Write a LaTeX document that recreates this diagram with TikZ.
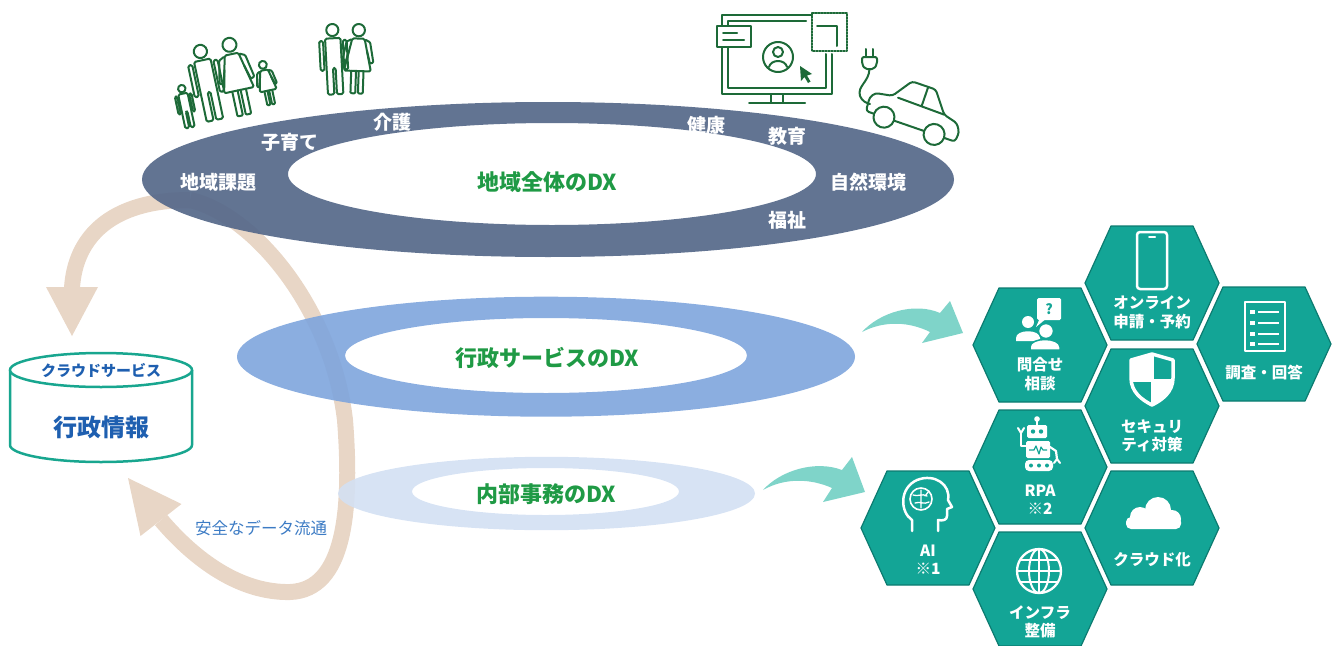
\documentclass[tikz,border=0pt]{standalone}
\usepackage{fontspec}
\setmainfont{Noto Sans CJK JP}
\usetikzlibrary{calc}

\definecolor{ringdark}{HTML}{56698A}
\definecolor{ringmid}{HTML}{7EA5DD}
\definecolor{ringlight}{HTML}{D3E0F3}
\definecolor{sand}{HTML}{E8D6C6}
\definecolor{dxgreen}{HTML}{1F9A45}
\definecolor{hexfill}{HTML}{13A596}
\definecolor{hexedge}{HTML}{0C7B70}
\definecolor{mint}{HTML}{7FD4C9}
\definecolor{linegreen}{HTML}{1D6A38}
\definecolor{cylteal}{HTML}{18A68F}
\definecolor{infoblue}{HTML}{1E5FB0}
\definecolor{flowblue}{HTML}{3C7BC4}

\tikzset{
  ringlabel/.style={text=white, font=\bfseries\fontsize{19}{21}\selectfont, inner sep=0pt},
  dxtitle/.style={text=dxgreen, font=\bfseries\fontsize{22}{24}\selectfont, inner sep=0pt},
  hextext/.style={text=white, font=\bfseries\fontsize{15.5}{18.5}\selectfont, align=center, inner sep=0pt},
  iconline/.style={draw=linegreen, line width=2pt, line join=round, line cap=round},
  glyph/.style={draw=white, line width=2.5pt, line join=round},
  sandband/.style={draw=sand, line width=16pt},
}

% one honeycomb cell centred at (#2,#3), centre named #1
\newcommand\hexcell[3]{%
  \begin{scope}[shift={(#2,#3)}]
    \fill[hexfill, draw=hexedge, line width=1.2pt, line join=round]
      (-67,0) -- (-41,-57) -- (41,-57) -- (67,0) -- (41,57) -- (-41,57) -- cycle;
  \end{scope}
  \coordinate (#1) at (#2,#3);}

% line-art figures: x, y of head top, scale, tilt
\newcommand\manfig[4]{%
  \begin{scope}[shift={(#1,#2)},rotate=#4,scale=#3]
    \draw[iconline] (0,5.5) circle[radius=5.5];
    \draw[iconline, rounded corners=1.5] (-7,13) -- (7,13) -- (7,64) -- (1.2,64) -- (1.2,40) -- (-1.2,40) -- (-1.2,64) -- (-7,64) -- cycle;
    \draw[iconline, rounded corners=1.5] (-12.5,15) rectangle (-9,42);
    \draw[iconline, rounded corners=1.5] (9,15) rectangle (12.5,42);
  \end{scope}}
\newcommand\womanfig[4]{%
  \begin{scope}[shift={(#1,#2)},rotate=#4,scale=#3]
    \draw[iconline] (0,5.5) circle[radius=5.5];
    \draw[iconline, rounded corners=1.5] (-5.5,13) -- (5.5,13) -- (12,42) -- (-12,42) -- cycle;
    \draw[iconline, rounded corners=1] (-5.5,42) -- (-5.5,62) -- (-1.2,62) -- (-1.2,42);
    \draw[iconline, rounded corners=1] (1.2,42) -- (1.2,62) -- (5.5,62) -- (5.5,42);
    \draw[iconline, rounded corners=1] (-6.5,14) -- (-10.5,16) -- (-14,34) -- (-11,35) -- (-8,24);
    \draw[iconline, rounded corners=1] (6.5,14) -- (10.5,16) -- (14,34) -- (11,35) -- (8,24);
  \end{scope}}

\begin{document}
\begin{tikzpicture}[x=1pt,y=-1pt]
\useasboundingbox (0,0) rectangle (1338,645);

% ---------- data flow loop (under the rings) ----------
\coordinate (loopstart) at (190,200);
\coordinate (headA) at (72,288);
\coordinate (headB) at (161,520);
\draw[sandband] (loopstart) .. controls (110,200) and (75,238) .. (headA);
\fill[sand] (46,287) -- (98,287) -- (72,336) -- cycle;
\draw[sandband] (loopstart) .. controls (255,215) and (332,310) .. (345,420)
  .. controls (352,510) and (345,590) .. (290,592)
  .. controls (240,593) and (195,560) .. (headB);
\fill[sand] (181.5,504) -- (140.5,536) -- (128,478) -- cycle;

% ---------- three DX rings ----------
\fill[ringdark, opacity=0.93, even odd rule]
  (548,179.5) ellipse[x radius=406pt, y radius=77.5pt]
  (552,174) ellipse[x radius=264pt, y radius=51pt];
\fill[ringmid, opacity=0.9, even odd rule]
  (546,356.7) ellipse[x radius=309pt, y radius=60pt]
  (546,355.5) ellipse[x radius=201pt, y radius=37.5pt];
\fill[ringlight, opacity=0.9, even odd rule]
  (546.5,493.5) ellipse[x radius=208.5pt, y radius=36.7pt]
  (545.5,491.5) ellipse[x radius=133.5pt, y radius=23.5pt];

\node[dxtitle] (regiondx) at (547,182) {地域全体のDX};
\node[dxtitle] (servicedx) at (547,358) {行政サービスのDX};
\node[dxtitle] (officedx) at (546,494) {内部事務のDX};

\node[ringlabel] (lbl1) at (218,182) {地域課題};
\node[ringlabel] (lbl2) at (290,142) {子育て};
\node[ringlabel] (lbl3) at (392,122) {介護};
\node[ringlabel] (lbl4) at (706,125) {健康};
\node[ringlabel] (lbl5) at (787,136) {教育};
\node[ringlabel] (lbl6) at (868,182) {自然環境};
\node[ringlabel] (lbl7) at (787,220) {福祉};

% ---------- cloud storage cylinder ----------
\fill[white] (10,370) -- (10,445) arc[start angle=180, end angle=360, x radius=91pt, y radius=17pt] -- (192,370) -- cycle;
\draw[cylteal, line width=2.5pt] (10,370) -- (10,445) arc[start angle=180, end angle=360, x radius=91pt, y radius=17pt] -- (192,370);
\draw[cylteal, line width=2.5pt, fill=white] (101,370) ellipse[x radius=91pt, y radius=17pt];
\node[text=infoblue, font=\fontsize{15}{17}\selectfont\bfseries, inner sep=0pt] (cloudsvc) at (101,371) {クラウドサービス};
\node[text=infoblue, font=\fontsize{24}{26}\selectfont\bfseries, inner sep=0pt] (adminfo) at (101,427) {行政情報};
\node[text=flowblue, font=\fontsize{16.5}{18}\selectfont, inner sep=0pt] (flowlbl) at (261,528) {安全なデータ流通};

% ---------- arrows towards the toolbox ----------
\coordinate (tailA) at (862,332);
\coordinate (tailB) at (763,490);
\fill[mint] (tailA) .. controls (880,312) and (915,302) .. (940,313) -- (950,301) -- (963,333) -- (922,343) -- (930,332)
  .. controls (910,322) and (885,320) .. (tailA) -- cycle;
\fill[mint] (tailB) .. controls (781,470) and (816,460) .. (842,470) -- (852,457) -- (865,492) -- (823,502) -- (832,488)
  .. controls (812,479) and (786,477) .. (tailB) -- cycle;

% ---------- honeycomb of tools ----------
\hexcell{hOnline}{1152}{283}
\hexcell{hSurvey}{1264}{344}
\hexcell{hInquiry}{1040}{345}
\hexcell{hSecurity}{1152}{406}
\hexcell{hRPA}{1040}{467}
\hexcell{hCloud}{1152}{528}
\hexcell{hAI}{928}{528}
\hexcell{hInfra}{1040}{589}

% smartphone
\draw[glyph, rounded corners=3] (1137,232) rectangle (1167,289);
\draw[white, line width=2pt, line cap=round] (1149,237) -- (1155,237);
\node[hextext] (tOnline) at (1152,312.5) {オンライン\\申請・予約};

% survey sheet
\draw[glyph] (1245,302) rectangle (1285,351);
\foreach \yy in {312,323,334,344}{
  \fill[white] (1250,\yy-2) rectangle (1254.5,\yy+2);
  \draw[white, line width=2pt] (1258,\yy) -- (1279,\yy);
}
\node[hextext] (tSurvey) at (1264,373) {調査・回答};

% inquiry: two people and a speech bubble
\fill[white, rounded corners=1.5] (1037,298) rectangle (1061,320);
\fill[white] (1040,318) -- (1047,318) -- (1036,327) -- cycle;
\node[text=hexfill, font=\bfseries\fontsize{14}{14}\selectfont, inner sep=0pt] (qmark) at (1049,309) {?};
\fill[white] (1028,322) circle[radius=6];
\fill[white] (1016,341) -- (1016,338) .. controls (1016,329) and (1040,329) .. (1040,338) -- (1040,341) -- cycle;
\fill[white, draw=hexfill, line width=1.5pt] (1046,331) circle[radius=7.5];
\fill[white, draw=hexfill, line width=1.5pt] (1030,350) -- (1030,347) .. controls (1030,337) and (1060,337) .. (1060,347) -- (1060,350) -- cycle;
\node[hextext] (tInquiry) at (1040,374) {問合せ\\相談};

% security shield
\fill[white] (1131,360) -- (1152,354) -- (1173,360) -- (1173,378) .. controls (1173,392) and (1162,400) .. (1152,405)
  .. controls (1142,400) and (1131,392) .. (1131,378) -- cycle;
\begin{scope}
  \clip (1131,360) -- (1152,354) -- (1173,360) -- (1173,378) .. controls (1173,392) and (1162,400) .. (1152,405)
    .. controls (1142,400) and (1131,392) .. (1131,378) -- cycle;
  \fill[hexfill] (1153.5,352) rectangle (1176,379);
  \fill[hexfill] (1128,381.5) rectangle (1150.5,410);
\end{scope}
\draw[white, line width=3.5pt, line join=round] (1131,360) -- (1152,354) -- (1173,360) -- (1173,378) .. controls (1173,392) and (1162,400) .. (1152,405)
  .. controls (1142,400) and (1131,392) .. (1131,378) -- cycle;
\node[hextext] (tSecurity) at (1152,436) {セキュリ\\ティ対策};

% RPA robot
\fill[white] (1037,419) circle[radius=2.8];
\draw[white, line width=1.8pt] (1037,421) -- (1037,426);
\fill[white, rounded corners=1.5] (1027,425) rectangle (1047,438);
\fill[hexfill] (1033,431.5) circle[radius=2.2] (1041,431.5) circle[radius=2.2];
\fill[white, rounded corners=1.5] (1026,441) rectangle (1050,458);
\draw[hexfill, line width=1.2pt, line join=round] (1029,450) -- (1034,450) -- (1036,446) -- (1039,454) -- (1041,447) -- (1043,450) -- (1047,450);
\draw[white, line width=2.2pt, line join=round, line cap=round] (1026,446) -- (1021,446) -- (1021,433);
\draw[white, line width=2pt, line cap=round] (1018,428) -- (1021,433) -- (1024,428);
\draw[white, line width=2.2pt, line join=round, line cap=round] (1050,447) -- (1056,451) -- (1057,459);
\draw[white, line width=2pt, line cap=round] (1054,463) -- (1057,459) -- (1060,463);
\fill[white, rounded corners=4] (1025,460) rectangle (1053,471);
\fill[hexfill] (1031,465.5) circle[radius=2] (1039,465.5) circle[radius=2] (1047,465.5) circle[radius=2];
\node[hextext] (tRPA) at (1040,499.5) {RPA\\※2};

% AI head
\draw[glyph, line cap=round] (912,531) -- (912,520) .. controls (900,512) and (899,488) .. (917,480)
  .. controls (935,473) and (951,485) .. (948,500) -- (952,507) -- (947,509) -- (947,516)
  .. controls (947,520) and (943,521) .. (938,520) -- (938,531);
\draw[white, line width=1.6pt, line join=round] (921,499) circle[radius=11];
\draw[white, line width=1.3pt, line cap=round] (913,495) .. controls (918,497) and (922,493) .. (927,496)
  (915,503) .. controls (920,501) and (924,505) .. (929,502) (921,490) -- (921,508) (925,496) -- (929,491);
\node[hextext] (tAI) at (928,559.5) {AI\\※1};

% cloud
\fill[white] (1140,517) circle[radius=10] (1158,510) circle[radius=13] (1172,519) circle[radius=9];
\fill[white, rounded corners=5] (1126,517) rectangle (1181,529);
\node[hextext] (tCloud) at (1152,560) {クラウド化};

% globe
\draw[white, line width=2.3pt] (1039,571) circle[radius=22];
\draw[white, line width=2pt] (1039,571) ellipse[x radius=10pt, y radius=22pt];
\draw[white, line width=2pt] (1039,549) -- (1039,593) (1017,571) -- (1061,571)
  (1020,560) -- (1058,560) (1020,582) -- (1058,582);
\node[hextext] (tInfra) at (1040,622) {インフラ\\整備};

% ---------- people above the ring ----------
\manfig{181}{85}{0.68}{12}
\manfig{199}{45}{1.2}{12}
\womanfig{228}{38}{1.27}{12}
\womanfig{262}{61}{0.72}{12}
\manfig{332}{24}{1.1}{3}
\womanfig{359}{24}{1.12}{-2}

% ---------- monitor with online services ----------
\draw[iconline] (812,15) -- (722,15) -- (722,94) -- (832,94) -- (832,54);
\draw[iconline] (806,21) -- (728,21) -- (728,88) -- (826,88) -- (826,54);
\draw[iconline, dash pattern=on 1.6pt off 1.4pt] (812,13) rectangle (847,51);
\draw[iconline] (817,26) -- (837,26) -- (837,46);
\draw[iconline, fill=white] (717,26) rectangle (751,47);
\draw[iconline] (723,33) -- (737,33) (723,40) -- (744,40);
\draw[iconline] (778,57) circle[radius=15];
\draw[iconline] (778,52) circle[radius=5];
\draw[iconline] (769,67) .. controls (771,59) and (785,59) .. (787,67);
\fill[linegreen] (800,66) -- (801,81) -- (804.5,77) -- (808,83) -- (810.5,81.5) -- (807,75.5) -- (812,74) -- cycle;
\draw[iconline] (771,94) -- (771,102) (783,94) -- (783,102) (749,103) -- (805,103);

% ---------- plug and electric car ----------
\draw[iconline] (866,49) -- (866,56) (873,49) -- (873,56);
\draw[iconline, rounded corners=2] (862,57) -- (877,57) -- (877,64) -- (874,69) -- (865,69) -- (862,64) -- cycle;
\draw[iconline] (869.5,69) .. controls (869,82) and (857,86) .. (860,96) .. controls (862,101) and (866,103) .. (870,104);
\begin{scope}[shift={(866,111)}, rotate=-19]
  \draw[iconline, rounded corners=3] (0,0) -- (-1,-14) -- (3,-20) -- (20,-23) -- (34,-43) -- (59,-43) -- (75,-22) -- (90,-18) -- (95,-10) -- (94,0) -- cycle;
  \draw[iconline] (26,-23) -- (75,-22) (51,-23) -- (51,-42);
  \draw[iconline, fill=white] (19,0) circle[radius=10.5];
  \draw[iconline, fill=white] (72,0) circle[radius=10.5];
\end{scope}
\end{tikzpicture}
\end{document}
